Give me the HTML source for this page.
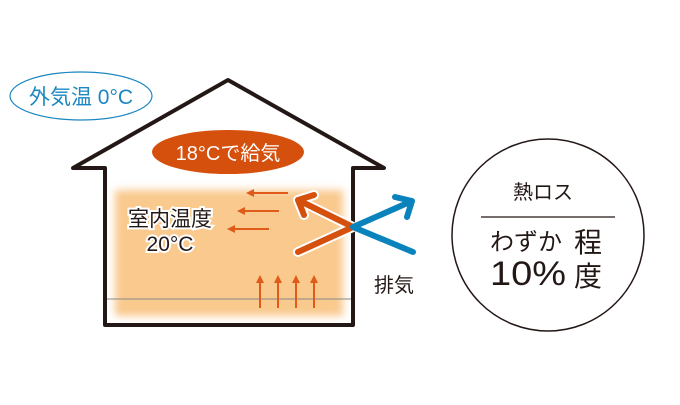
<!DOCTYPE html>
<html><head><meta charset="utf-8"><style>
body{margin:0;background:#fff;}
svg text{font-family:"Liberation Sans","Noto Sans CJK JP",sans-serif;}
</style></head><body>
<svg width="680" height="400" viewBox="0 0 680 400" xmlns="http://www.w3.org/2000/svg">
<defs>
<filter id="blur" x="-10%" y="-10%" width="120%" height="120%"><feGaussianBlur stdDeviation="4"/></filter>
</defs>
<rect x="115" y="190" width="228" height="126" fill="#f9c98e" filter="url(#blur)"/>
<line x1="106" y1="299" x2="352" y2="299" stroke="#888" stroke-width="1"/>
<path d="M105,325 L105,168 L73,168 L228,80 L384,168 L353,168 L353,325 Z" fill="none" stroke="#231815" stroke-width="4" stroke-linejoin="round"/>
<ellipse cx="81" cy="96" rx="71" ry="24" fill="#fff" stroke="#1b87c0" stroke-width="1.2"/>
<text x="81" y="104" font-size="21" fill="#1b87c0" text-anchor="middle">外気温 0°C</text>
<ellipse cx="228" cy="152" rx="76" ry="22" fill="#d54f0d"/>
<text x="228" y="160" font-size="20" fill="#fff" text-anchor="middle">18°Cで給気</text>
<g stroke="#e05a1a" stroke-width="2" fill="#e05a1a">
<line x1="288" y1="193" x2="252" y2="193"/><polygon points="246,193 254,189 254,197" stroke="none"/>
<line x1="279" y1="211" x2="243" y2="211"/><polygon points="237,211 245,207 245,215" stroke="none"/>
<line x1="269" y1="229" x2="233" y2="229"/><polygon points="227,229 235,225 235,233" stroke="none"/>
<line x1="260" y1="308" x2="260" y2="281"/><polygon points="260,275 256,283 264,283" stroke="none"/>
<line x1="278" y1="308" x2="278" y2="281"/><polygon points="278,275 274,283 282,283" stroke="none"/>
<line x1="296" y1="308" x2="296" y2="281"/><polygon points="296,275 292,283 300,283" stroke="none"/>
<line x1="314" y1="308" x2="314" y2="281"/><polygon points="314,275 310,283 318,283" stroke="none"/>
</g>
<g fill="none" stroke-linecap="round" stroke-linejoin="round">
<path d="M298,252 L353,227 L298,200 M314,195 L298,200 L304,215" stroke="#fff" stroke-width="10"/>
<path d="M298,252 L353,227 L298,200 M314,195 L298,200 L304,215" stroke="#d54f0d" stroke-width="6"/>
<path d="M413,252 L353,227 L412,201 M395,197 L412,201 L407,217" stroke="#0a83bd" stroke-width="6"/>
</g>
<g font-size="21" fill="#231815" stroke="#fff" stroke-width="4" paint-order="stroke" text-anchor="middle">
<text x="170" y="226">室内温度</text>
<text x="170" y="251">20°C</text>
</g>
<text x="394" y="292" font-size="20" fill="#231815" text-anchor="middle">排気</text>
<circle cx="548" cy="235" r="96" fill="#fff" stroke="#231815" stroke-width="1.5"/>
<text x="543" y="199" font-size="20" fill="#231815" text-anchor="middle">熱ロス</text>
<line x1="481" y1="217" x2="615" y2="217" stroke="#231815" stroke-width="1.2"/>
<text x="490" y="250" font-size="24" fill="#231815">わずか</text>
<text x="574" y="252" font-size="28" fill="#231815">程</text>
<text x="490" y="285" font-size="34" fill="#231815" textLength="76" lengthAdjust="spacingAndGlyphs">10%</text>
<text x="574" y="286" font-size="28" fill="#231815">度</text>
</svg>
</body></html>
